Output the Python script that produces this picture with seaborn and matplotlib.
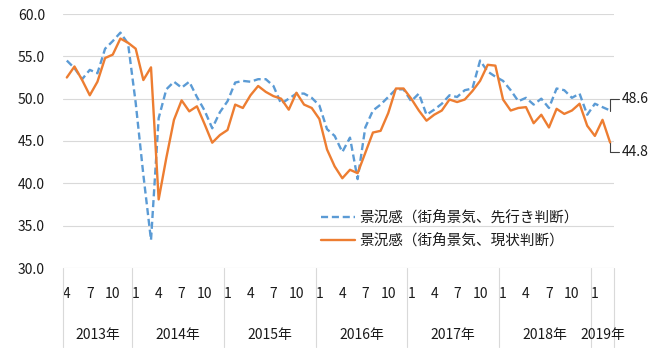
import numpy as np
import pandas as pd
import matplotlib
matplotlib.use("Agg")
import matplotlib.pyplot as plt
import seaborn as sns
from matplotlib.transforms import blended_transform_factory

# ---- data (monthly, April 2013 - March 2019) ----
future = [54.5, 53.6, 52.3, 53.4, 53.0, 55.9, 56.8, 57.8, 56.5,
          49.5, 41.0, 33.3, 47.7, 51.1, 52.0, 51.3, 52.0, 50.2, 48.6, 46.5, 48.4, 49.7, 51.9, 52.1,
          52.0, 52.3, 52.3, 51.5, 49.4, 50.0, 50.6, 50.6, 50.1, 49.2, 46.4, 45.6,
          43.7, 45.4, 40.5, 46.6, 48.6, 49.3, 50.2, 51.1, 51.1, 49.7, 50.6, 48.1,
          48.7, 49.4, 50.4, 50.2, 51.0, 51.2, 54.5, 53.2, 52.6, 52.1, 51.0, 49.7,
          50.1, 49.3, 50.0, 48.9, 51.2, 51.0, 50.1, 50.6, 48.1,
          49.4, 49.0, 48.6]
current = [52.5, 53.8, 52.2, 50.4, 52.0, 54.8, 55.2, 57.1, 56.6,
           55.9, 52.2, 53.7, 38.1, 43.0, 47.5, 49.8, 48.5, 49.1, 47.0, 44.8, 45.7, 46.3,
           49.3, 48.9, 50.4, 51.5, 50.8, 50.3, 50.0, 48.7, 50.7, 49.3, 48.9, 47.6, 44.0, 42.0,
           40.6, 41.6, 41.2, 43.6, 46.0, 46.2, 48.3, 51.2, 51.2, 50.0, 48.6, 47.4,
           48.1, 48.6, 49.9, 49.6, 49.9, 50.9, 52.1, 54.0, 53.9, 49.9, 48.6, 48.9,
           49.0, 47.1, 48.1, 46.6, 48.8, 48.2, 48.6, 49.4, 46.8,
           45.6, 47.5, 44.8]
start_year, start_month = 2013, 4
month_tick_values = [1, 4, 7, 10]
y_ticks = [30, 35, 40, 45, 50, 55, 60]
series_names = ["景況感（街角景気、先行き判断）", "景況感（街角景気、現状判断）"]
colors = ["#5B9BD5", "#ED7D31"]

n = len(current)
months = [(start_month - 1 + i) % 12 + 1 for i in range(n)]
years = [start_year + (start_month - 1 + i) // 12 for i in range(n)]

df = pd.DataFrame({
    "idx": list(range(n)) * 2,
    "value": future + current,
    "series": [series_names[0]] * n + [series_names[1]] * n,
})

sns.set_theme(style="white")
plt.rcParams["font.family"] = ["Noto Sans CJK JP", "DejaVu Sans"]
txt_color = "#1a1a1a"
grid_color = "#d9d9d9"
fs = 10

W, H = 660, 358
fig = plt.figure(figsize=(W / 100, H / 100), dpi=100)
ax_left, ax_right, ax_top, ax_bottom = 63, 614, 14, 268
ax = fig.add_axes([ax_left / W, 1 - ax_bottom / H, (ax_right - ax_left) / W, (ax_bottom - ax_top) / H])

sns.lineplot(data=df, x="idx", y="value", hue="series", style="series",
             palette=dict(zip(series_names, colors)),
             dashes={series_names[0]: (3, 1.6), series_names[1]: ""},
             linewidth=1.7, ax=ax, legend=False, sort=False)

ax.set_xlim(-0.5, n - 0.5)
ax.set_ylim(y_ticks[0], y_ticks[-1])
ax.set_yticks(y_ticks)
ax.set_yticklabels([f"{v:.1f}" for v in y_ticks], fontsize=fs, color=txt_color)
ax.yaxis.grid(True, color=grid_color, lw=0.8)
ax.xaxis.grid(False)
for s in ax.spines.values():
    s.set_visible(False)
ax.tick_params(axis="y", length=0, pad=13)
ax.set_xlabel("")
ax.set_ylabel("")

# month tick labels
tick_pos = [i for i in range(n) if months[i] in month_tick_values]
ax.set_xticks(tick_pos)
ax.set_xticklabels([str(months[i]) for i in tick_pos], fontsize=fs, color=txt_color)
ax.tick_params(axis="x", length=0, pad=14)

# year group labels and dividers
trans = blended_transform_factory(ax.transData, ax.transAxes)
bounds = [-0.5] + [i - 0.5 for i in range(1, n) if years[i] != years[i - 1]] + [n - 0.5]
ybot = -(347 - ax_bottom) / (ax_bottom - ax_top)
for b in bounds:
    ax.plot([b, b], [0, ybot], transform=trans, color=grid_color, lw=0.8, clip_on=False)
for k in range(len(bounds) - 1):
    yr = years[int(bounds[k] + 0.5)]
    ax.text((bounds[k] + bounds[k + 1]) / 2, -(335 - ax_bottom) / (ax_bottom - ax_top),
            f"{yr}年", transform=trans, ha="center", va="center", fontsize=fs, color=txt_color)

# legend
handles = ax.lines[:2]
leg = ax.legend(handles, series_names, loc="upper left", frameon=False,
                bbox_to_anchor=(321 / W, 1 - 211 / H), bbox_transform=fig.transFigure,
                borderpad=0, borderaxespad=0, handlelength=2.3, handletextpad=0.3,
                labelspacing=0.6, fontsize=10.5)
for t in leg.get_texts():
    t.set_color(txt_color)

# end labels with leader lines
for vals, dy in ((future, 12), (current, -9)):
    ax.annotate(f"{vals[-1]:.1f}", xy=(n - 1, vals[-1]), xytext=(12, dy), textcoords="offset pixels",
                ha="left", va="center", fontsize=fs, color=txt_color,
                arrowprops=dict(arrowstyle="-", color="#404040", lw=0.8, relpos=(0, 0.5),
                                connectionstyle="angle,angleA=0,angleB=90,rad=0",
                                shrinkA=0, shrinkB=0))

fig.savefig("out.png", dpi=100)
